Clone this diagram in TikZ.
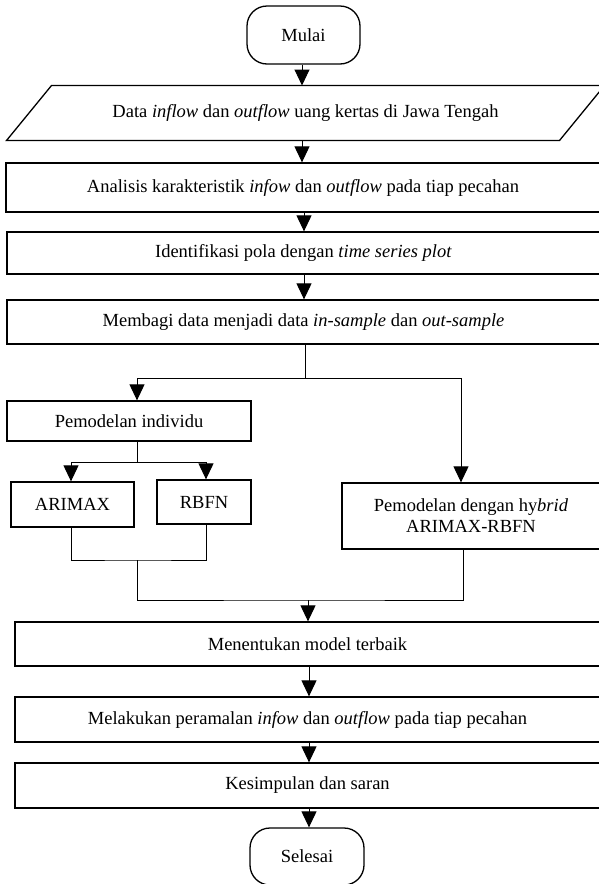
\documentclass[tikz,border=0pt]{standalone}
\usepackage{fontspec}
\setmainfont{Liberation Serif}
\usetikzlibrary{arrows.meta}

\tikzset{
  box/.style={draw,line width=1.3pt,inner sep=0pt},
  terminal/.style={box,rounded corners=20pt},
  arr/.style={-{Triangle[width=15pt,length=16pt]}},
}

\begin{document}
\begin{tikzpicture}[x=1pt,y=-1pt,line width=1pt,font=\fontsize{18.5}{21}\selectfont]
      \useasboundingbox (0,0) rectangle (598,884);
      \draw
        (303.5,35) node[terminal,minimum width=113pt,minimum height=58pt] (mulai){Mulai}
        (305.5,113) node[minimum width=552pt,minimum height=54pt,inner sep=0pt] (data){Data \textit{inflow} dan \textit{outflow} uang kertas di Jawa Tengah}
        (303,187.5) node[box,minimum width=594pt,minimum height=49pt] (analisis){Analisis karakteristik \textit{infow} dan \textit{outflow} pada tiap pecahan}
        (303.5,253) node[box,minimum width=593pt,minimum height=42pt] (identifikasi){Identifikasi pola dengan \textit{time series plot}}
        (303.5,322) node[box,minimum width=593pt,minimum height=44pt] (membagi){Membagi data menjadi data \textit{in-sample} dan \textit{out-sample}}
        (129,421) node[box,minimum width=244pt,minimum height=40pt] (individu){Pemodelan individu}
        (72.5,504.5) node[box,minimum width=123pt,minimum height=45pt] (arimax){ARIMAX}
        (204,503) node[box,minimum width=94pt,minimum height=44pt,yshift=1pt] (rbfn){RBFN}
        (471,516) node[box,minimum width=258pt,minimum height=66pt,align=center] (hybrid){Pemodelan dengan hy\textit{brid}\\ARIMAX-RBFN}
        (307.5,644) node[box,minimum width=585pt,minimum height=44pt] (menentukan){Menentukan model terbaik}
        (307.5,719.5) node[box,minimum width=585pt,minimum height=45pt] (melakukan){Melakukan peramalan \textit{infow} dan \textit{outflow} pada tiap pecahan}
        (307.5,785.5) node[box,minimum width=585pt,minimum height=45pt] (kesimpulan){Kesimpulan dan saran}
        (307,856.5) node[terminal,minimum width=114pt,minimum height=57pt] (selesai){Selesai};
      % parallelogram round the data node
      \draw[line width=1.3pt] ([xshift=22.5]data.north west) -- ([xshift=22.5]data.north east)
        -- ([xshift=-22.5]data.south east) -- ([xshift=-22.5]data.south west) -- cycle;
      \coordinate (fork) at (305,378);
      \coordinate (fork2) at (137,462);
      \coordinate (join1) at (137,560);
      \coordinate (join2) at (308,600);
      \begin{scope}[arr]
        \draw (mulai.south -| 302,0) -- (data.north -| 302,0);
        \draw (data.south -| 302,0) -- (analisis.north -| 302,0);
        \draw (analisis.south -| 304,0) -- (identifikasi.north -| 304,0);
        \draw (identifikasi.south -| 304,0) -- (membagi.north -| 304,0);
        \draw (fork) -| ([xshift=8]individu.north);
        \draw (fork) -| ([xshift=-10]hybrid.north);
        \draw (fork2) -| ([xshift=-1.5]arimax.north);
        \draw (fork2) -| ([xshift=2]rbfn.north);
        \draw (join2) -- (menentukan.north -| join2);
        \draw (menentukan.south -| 309,0) -- (melakukan.north -| 309,0);
        \draw (melakukan.south -| 309,0) -- (kesimpulan.north -| 309,0);
        \draw (kesimpulan.south -| 309,0) -- (selesai.north -| 309,0);
      \end{scope}
      \begin{scope}[-]
        \draw (membagi.south -| fork) -- (fork);
        \draw ([xshift=8]individu.south) -- (fork2);
        \draw ([xshift=-1.5]arimax.south) |- (join1) -| ([xshift=2]rbfn.south);
        \draw (join1) |- (join2) -| ([xshift=-8]hybrid.south);
      \end{scope}
    \end{tikzpicture}
\end{document}
